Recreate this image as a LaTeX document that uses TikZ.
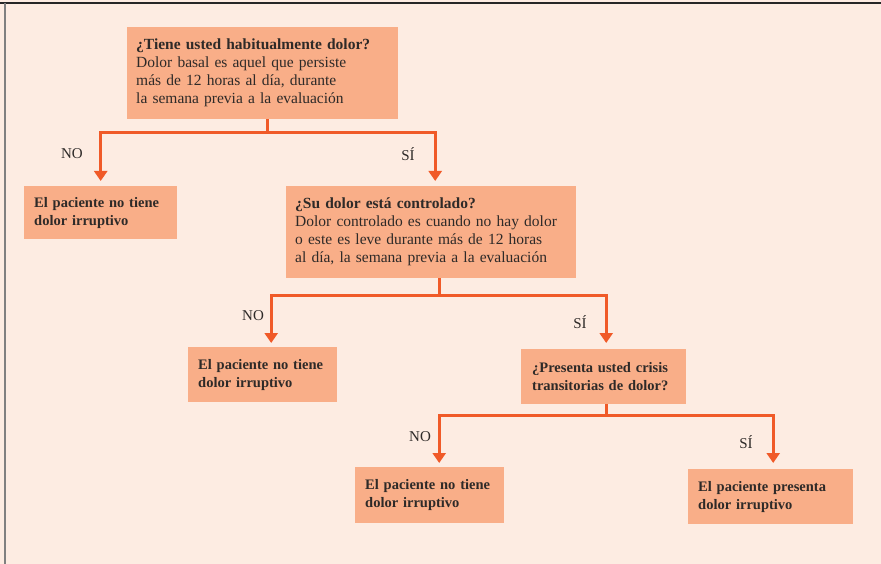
\documentclass[tikz,border=0pt]{standalone}
\usepackage{fontspec}
\setmainfont{Liberation Serif}
\usetikzlibrary{arrows.meta}
\definecolor{bgcream}{HTML}{FDECE2}
\definecolor{boxfill}{HTML}{F9AE88}
\definecolor{arrowred}{HTML}{F05A28}
\definecolor{txtdark}{HTML}{2E2A28}

\tikzset{
  box/.style={fill=boxfill, anchor=north west, align=left, inner xsep=9pt, inner ysep=0pt,
    text=txtdark, font=\fontsize{15.5}{18}\selectfont},
  endbox/.style={box, inner xsep=10pt, font=\bfseries\fontsize{14.5}{18}\selectfont},
  stem/.style={draw=arrowred, line width=3pt},
  arr/.style={stem, -{Triangle[width=13pt,length=10pt]}, shorten >=5pt},
  lbl/.style={text=txtdark, font=\fontsize{15}{16}\selectfont},
}

\begin{document}
\begin{tikzpicture}[x=1pt, y=-1pt]
    \useasboundingbox (0,0) rectangle (881,564);
    \fill[bgcream] (0,0) rectangle (881,564);
    \draw[line width=2pt, black!85] (0,3) -- (881,3);
    \draw[line width=2pt, black!50] (5,3) -- (5,564);

    % questions
    \node[box, text width=253pt, minimum height=92pt] (q1) at (127,27)
      {\textbf{¿Tiene usted habitualmente dolor?}\\Dolor basal es aquel que persiste\\más de 12 horas al día, durante\\la semana previa a la evaluación};
    \node[box, text width=272pt, minimum height=92pt] (q2) at (286,186)
      {\textbf{¿Su dolor está controlado?}\\Dolor controlado es cuando no hay dolor\\o este es leve durante más de 12 horas\\al día, la semana previa a la evaluación};
    \node[endbox, inner xsep=11pt, text width=143pt, minimum height=55pt] (q3) at (521,349)
      {¿Presenta usted crisis\\transitorias de dolor?};

    % answers
    \node[endbox, text width=133pt, minimum height=53pt] (r1) at (24,186)
      {El paciente no tiene\\dolor irruptivo};
    \node[endbox, text width=129pt, minimum height=55pt] (r2) at (188,347)
      {El paciente no tiene\\dolor irruptivo};
    \node[endbox, text width=129pt, minimum height=56pt] (r3) at (355,467)
      {El paciente no tiene\\dolor irruptivo};
    \node[endbox, text width=145pt, minimum height=55pt] (r4) at (688,469)
      {El paciente presenta\\dolor irruptivo};

    % branches
    \coordinate (j1) at (267,133);
    \draw[stem] (q1.south -| j1) -- (j1);
    \draw[arr] (j1) -| (r1.north);
    \draw[arr] (j1) -| ([xshift=4pt]q2.north);

    \coordinate (j2) at (439,295);
    \draw[stem] (q2.south -| j2) -- (j2);
    \draw[arr, shorten >=4pt] (j2) -| ([xshift=8.5pt]r2.north);
    \draw[arr, shorten >=6pt] (j2) -| ([xshift=2.5pt]q3.north);

    \coordinate (j3) at (606,415);
    \draw[stem] (q3.south -| j3) -- (j3);
    \draw[arr, shorten >=4pt] (j3) -| ([xshift=9.5pt]r3.north);
    \draw[arr, shorten >=6pt] (j3) -| ([xshift=2.5pt]r4.north);

    % labels
    \node[lbl] (no1) at (72,154) {NO};
    \node[lbl] (si1) at (408,154) {SÍ};
    \node[lbl] (no2) at (253,316) {NO};
    \node[lbl] (si2) at (580,322) {SÍ};
    \node[lbl] (no3) at (420,437) {NO};
    \node[lbl] (si3) at (746,442) {SÍ};
\end{tikzpicture}
\end{document}
